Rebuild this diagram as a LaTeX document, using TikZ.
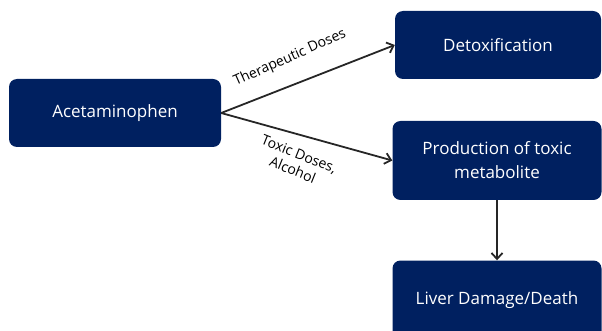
\documentclass[tikz,border=0pt]{standalone}
\usepackage{fontspec}
\setmainfont{Open Sans}
\usetikzlibrary{arrows.meta}

\definecolor{navy}{RGB}{0,32,96}
\definecolor{arrowgrey}{RGB}{38,38,38}

\tikzset{
  stepbox/.style={fill=navy, text=white, rounded corners=8pt, align=center,
    inner sep=0pt, font=\fontsize{17}{24}\selectfont},
  flow/.style={draw=arrowgrey, line width=1.8pt, -{Straight Barb[length=6pt, width=11pt, line width=1.8pt]}},
  doselabel/.style={font=\fontsize{14}{17}\selectfont, text=black, align=center, inner sep=0pt}
}

\begin{document}
\begin{tikzpicture}[x=1pt, y=-1pt]
        \useasboundingbox (0,0) rectangle (602,331);

        % boxes
        \node[stepbox, minimum width=212pt, minimum height=68pt] (acet) at (115,113) {Acetaminophen};
        \node[stepbox, minimum width=206pt, minimum height=68pt] (detox) at (498,45) {Detoxification};
        \node[stepbox, minimum width=209pt, minimum height=79pt] (prod) at (497,160.5) {Production of toxic\\metabolite};
        \node[stepbox, minimum width=209pt, minimum height=79pt] (liver) at (497,300) {Liver Damage/Death};

        % arrows
        \draw[flow] (acet.east) -- (detox.west);
        \draw[flow] (acet.east) -- (prod.west);
        \draw[flow] (prod.south) -- (liver.north);

        % labels on the arrows
        \node[doselabel, rotate=24] (therlabel) at (290,58) {Therapeutic Doses};
        \node[doselabel, rotate=-22] (toxlabel) at (296,162) {Toxic Doses,\\Alcohol};
    \end{tikzpicture}
\end{document}
